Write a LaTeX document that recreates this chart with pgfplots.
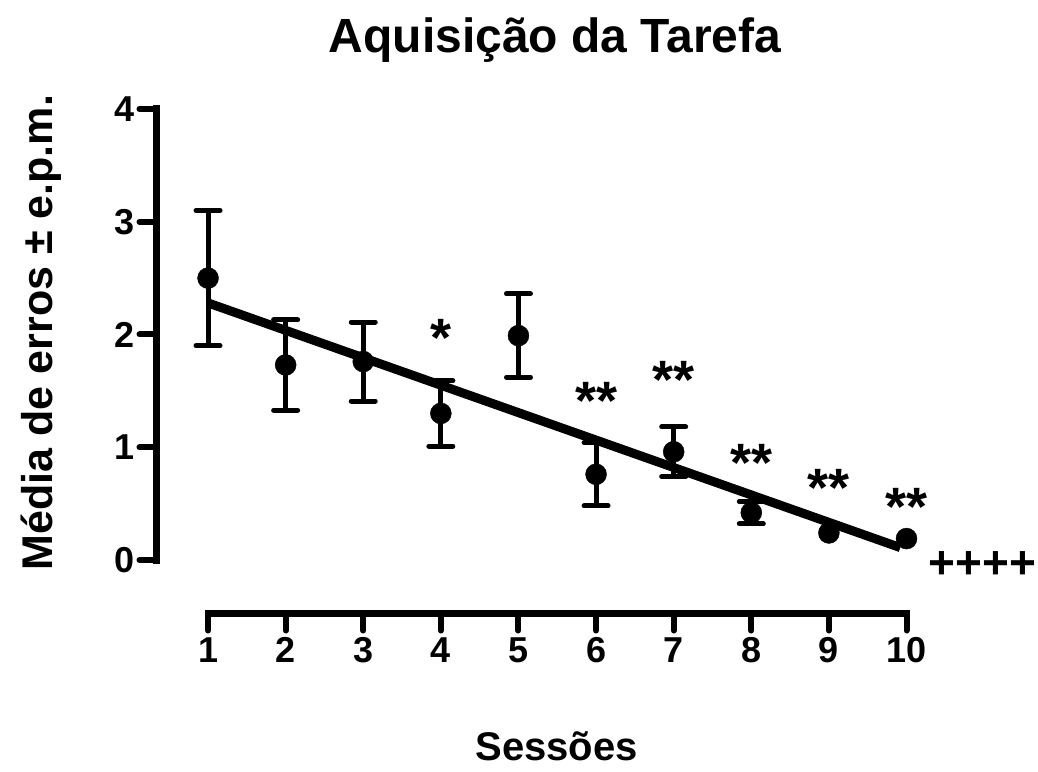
\documentclass[border=0pt]{standalone}
\usepackage{pgfplots}
\pgfplotsset{compat=1.18}
\usepackage{pgfplotstable}
\usepackage{fontspec}
\setmainfont{Liberation Sans}

% sessions 1-8: mean and s.e.m.
\pgfplotstableread{
x   y     err
1   2.50  0.60
2   1.73  0.40
3   1.76  0.35
4   1.30  0.29
5   1.99  0.37
6   0.76  0.28
7   0.96  0.22
8   0.42  0.10
}\sessoes

% sessions 9-10: error bars hidden behind the dot
\pgfplotstableread{
x   y
9   0.24
10  0.19
}\finais

\newcommand{\fs}[1]{\bfseries\fontsize{#1}{#1}\selectfont}

\begin{document}
\begin{tikzpicture}
\useasboundingbox (-156.5pt,-157.5pt) rectangle (881.5pt,613.5pt);
\begin{axis}[
    scale only axis,
    width=750pt, height=504.5pt,
    xmin=0.336, xmax=10,
    ymin=-0.4745, ymax=4,
    clip=false,
    axis x line=bottom, axis y line=left,
    axis line style={draw=none},
    xtick={1,...,10}, ytick={0,1,2,3,4},
    tick align=outside,
    major tick length=17pt,
    tick style={line width=6pt, line cap=round, black},
    /pgf/number format/assume math mode=true,
    ticklabel style={font=\fs{36}},
    yticklabel style={xshift=-1pt},
    xticklabel style={yshift=-2pt, text height=26pt, text depth=0pt},
]
% axis lines
\draw[line width=7pt, line cap=rect] (axis cs:0.336,0) -- (axis cs:0.336,4);
\draw[line width=7pt, line cap=rect] (axis cs:1,-0.4745) -- (axis cs:10,-0.4745);

% mean +- sem
\addplot[only marks, black, mark=*, mark size=10.5pt,
    error bars/.cd, y dir=both, y explicit,
    error bar style={line width=5pt, black},
    error mark options={rotate=90, mark size=12pt, line width=5pt, line cap=round, black}]
    table[x=x, y=y, y error=err] {\sessoes};
\addplot[only marks, black, mark=*, mark size=10.5pt] table[x=x, y=y] {\finais};

% linear fit
\addplot[black, line width=9pt] coordinates {(1,2.28) (9.92,0.11)};

% significance marks
\node[anchor=base, font=\fs{54}, yshift=-29pt] at (axis cs:4,2.06) {*};
\node[anchor=base, font=\fs{54}, yshift=-31pt] at (axis cs:6,1.52) {**};
\node[anchor=base, font=\fs{54}, yshift=-31pt] at (axis cs:7,1.71) {**};
\node[anchor=base, font=\fs{54}, yshift=-31pt] at (axis cs:8,0.97) {**};
\node[anchor=base, font=\fs{54}, yshift=-31pt] at (axis cs:9,0.75) {**};
\node[anchor=base, font=\fs{54}, yshift=-31pt] at (axis cs:10,0.58) {**};
\node[anchor=base, font=\fs{46}, yshift=-16pt] at (axis cs:10.98,-0.02) {++++};
\end{axis}
\node[anchor=base, inner sep=0pt, font=\fs{48}] at (398.5pt,560.5pt) {Aquisição da Tarefa};
\node[anchor=base, inner sep=0pt, font=\fs{43}, rotate=90] at (-103.5pt,281pt) {Média de erros ± e.p.m.};
\node[anchor=base, inner sep=0pt, font=\fs{40}] at (400pt,-147pt) {Sessões};
\end{tikzpicture}
\end{document}
